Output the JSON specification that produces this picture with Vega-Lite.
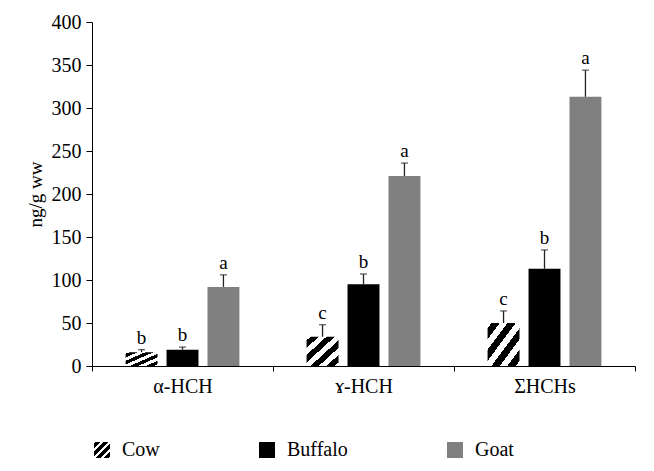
{
  "$schema": "https://vega.github.io/schema/vega-lite/v6.json",
  "width": 543,
  "height": 344,
  "autosize": "none",
  "padding": {"left": 92, "top": 22, "right": 19, "bottom": 105},
  "background": "white",
  "config": {
    "view": {"stroke": null},
    "font": "Liberation Serif"
  },
  "data": {
    "values": [
      {"group": "α-HCH", "animal": "Cow", "value": 16, "upper": 19, "letter": "b"},
      {"group": "α-HCH", "animal": "Buffalo", "value": 19, "upper": 22, "letter": "b"},
      {"group": "α-HCH", "animal": "Goat", "value": 92, "upper": 106, "letter": "a"},
      {"group": "ɤ-HCH", "animal": "Cow", "value": 34, "upper": 48, "letter": "c"},
      {"group": "ɤ-HCH", "animal": "Buffalo", "value": 95, "upper": 107, "letter": "b"},
      {"group": "ɤ-HCH", "animal": "Goat", "value": 221, "upper": 236, "letter": "a"},
      {"group": "ΣHCHs", "animal": "Cow", "value": 50, "upper": 64, "letter": "c"},
      {"group": "ΣHCHs", "animal": "Buffalo", "value": 113, "upper": 135, "letter": "b"},
      {"group": "ΣHCHs", "animal": "Goat", "value": 313, "upper": 344, "letter": "a"}
    ]
  },
  "encoding": {
    "x": {"field": "group", "type": "nominal", "sort": ["α-HCH", "ɤ-HCH", "ΣHCHs"], "scale": {"paddingInner": 0, "paddingOuter": 0},
      "axis": {"title": null, "labelAngle": 0, "tickBand": "extent", "tickSize": 5, "labelPadding": 5, "labelFont": "Liberation Serif", "labelFontSize": 20, "labelColor": "black", "domainColor": "black", "tickColor": "black", "grid": false}},
    "xOffset": {"field": "animal", "type": "nominal", "sort": ["Cow", "Buffalo", "Goat"], "scale": {"paddingInner": 0.22, "paddingOuter": 0.82}}
  },
  "layer": [
    {
      "mark": {"type": "bar"},
      "encoding": {
        "y": {"field": "value", "type": "quantitative", "scale": {"domain": [0, 400]},
          "axis": {"title": "ng/g ww", "values": [0, 50, 100, 150, 200, 250, 300, 350, 400], "tickSize": 6, "labelPadding": 5, "titlePadding": 6, "grid": false,
            "labelFont": "Liberation Serif", "labelFontSize": 20, "labelColor": "black", "titleFont": "Liberation Serif", "titleFontSize": 19, "titleFontWeight": "normal", "titleColor": "black", "domainColor": "black", "tickColor": "black"}},
        "fill": {
          "field": "animal", "type": "nominal",
          "scale": {"domain": ["Cow", "Buffalo", "Goat"], "range": [
            {"expr": "{gradient: 'linear', x1: 0, y1: 0, x2: 1, y2: 1, stops: [{offset: 0, color: 'white'}, {offset: 0.06, color: 'white'}, {offset: 0.06, color: 'black'}, {offset: 0.19, color: 'black'}, {offset: 0.19, color: 'white'}, {offset: 0.31, color: 'white'}, {offset: 0.31, color: 'black'}, {offset: 0.44, color: 'black'}, {offset: 0.44, color: 'white'}, {offset: 0.56, color: 'white'}, {offset: 0.56, color: 'black'}, {offset: 0.69, color: 'black'}, {offset: 0.69, color: 'white'}, {offset: 0.81, color: 'white'}, {offset: 0.81, color: 'black'}, {offset: 0.94, color: 'black'}, {offset: 0.94, color: 'white'}, {offset: 1, color: 'white'}]}"},
            "#000000", "#808080"]},
          "legend": {"title": null, "orient": "bottom", "direction": "horizontal", "columns": 3, "columnPadding": 97, "symbolType": "square", "symbolSize": 256, "symbolStrokeWidth": 0, "labelOffset": 10, "offset": 44,
            "labelFont": "Liberation Serif", "labelFontSize": 20, "labelColor": "black"}
        }
      }
    },
    {
      "mark": {"type": "rule", "color": "#222222", "strokeWidth": 1.3},
      "encoding": {"y": {"field": "value", "type": "quantitative"}, "y2": {"field": "upper"}}
    },
    {
      "mark": {"type": "tick", "color": "#222222", "thickness": 1.3, "size": 7},
      "encoding": {"y": {"field": "upper", "type": "quantitative"}}
    },
    {
      "mark": {"type": "text", "baseline": "alphabetic", "dy": -6, "fontSize": 19, "font": "Liberation Serif", "color": "black"},
      "encoding": {"y": {"field": "upper", "type": "quantitative"}, "text": {"field": "letter"}}
    }
  ]
}
